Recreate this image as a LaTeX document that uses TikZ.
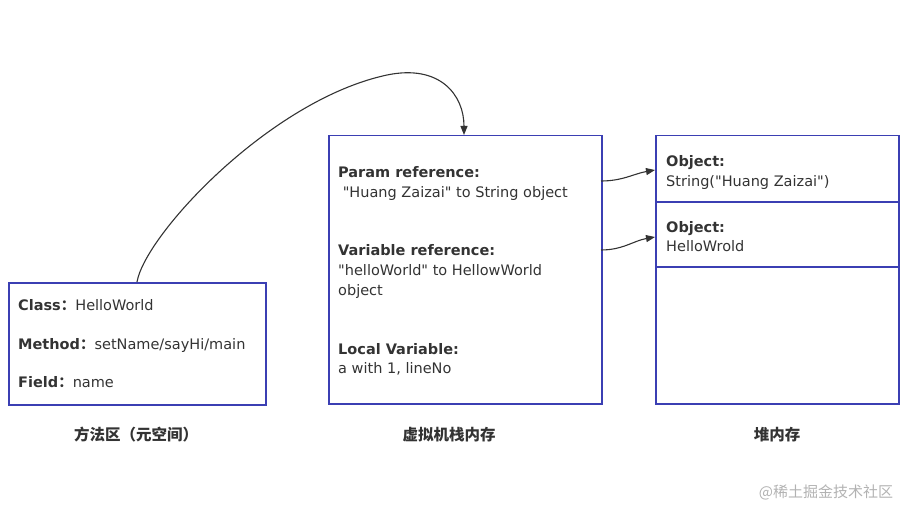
\documentclass[tikz,border=0pt]{standalone}
\usepackage{fontspec}
\setmainfont{DejaVu Sans}[Ligatures=TeXOff]
\newfontfamily\cjk{Noto Sans CJK SC}
\usetikzlibrary{arrows.meta}
\definecolor{boxblue}{HTML}{3B3FB3}
\definecolor{ink}{HTML}{333333}
\tikzset{
  area/.style={draw=boxblue, line width=1.5pt},
  txt/.style={anchor=base west, inner sep=0pt, text=ink, font=\fontsize{14.5}{16}\selectfont},
  hd/.style={txt, font=\fontsize{14.5}{16}\selectfont\bfseries},
  caption/.style={anchor=center, inner sep=0pt, text=ink, font=\fontsize{15.5}{17}\selectfont\cjk\bfseries},
  link/.style={draw=ink, line width=1.1pt, -{Triangle[length=9pt,width=7pt]}}
}
\begin{document}
\begin{tikzpicture}[x=1pt,y=-1pt]
\useasboundingbox (0,0) rectangle (913,508);
% boxes
\node[area, minimum width=257pt, minimum height=122pt, anchor=north west] (meta) at (8,282) {};
\node[area, minimum width=273pt, minimum height=268pt, anchor=north west] (stack) at (328,135) {};
\node[area, minimum width=243pt, minimum height=268pt, anchor=north west] (heap) at (655,135) {};
\draw[boxblue, line width=1.5pt] (655,202) -- (898,202);
\draw[boxblue, line width=1.5pt] (655,267) -- (898,267);
% left texts
\node[txt] (c1) at (18,310) {\textbf{Class}{\cjk\bfseries ：}HelloWorld};
\node[txt] (c2) at (18,349) {\textbf{Method}{\cjk\bfseries ：}setName/sayHi/main};
\node[txt] (c3) at (18,387) {\textbf{Field}{\cjk\bfseries ：}name};
% middle texts
\node[hd] (s1) at (338,177) {Param reference:};
\node[txt] (s2) at (338,197) {~"Huang Zaizai" to String object};
\node[hd] (s3) at (338,255) {Variable reference:};
\node[txt] (s4) at (338,275) {"helloWorld" to HellowWorld};
\node[txt] (s5) at (338,295) {object};
\node[hd] (s6) at (338,354) {Local Variable:};
\node[txt] (s7) at (338,373) {a with 1, lineNo};
% right texts
\node[hd] (h1) at (666,166) {Object:};
\node[txt] (h2) at (666,186) {String("Huang Zaizai")};
\node[hd] (h3) at (666,232) {Object:};
\node[txt] (h4) at (666,251) {HelloWrold};
% captions
\node[caption] (l1) at (136,435) {方法区（元空间）};
\node[caption] (l2) at (449,435) {虚拟机栈内存};
\node[caption] (l3) at (777,435) {堆内存};
\node[anchor=center, inner sep=0pt, text=black!30, font=\fontsize{15}{17}\selectfont\cjk] (wm) at (826,492) {@稀土掘金技术社区};
% connectors
\coordinate (a0) at (137,282);
\coordinate (a1) at (464,135);
\draw[link] (a0) .. controls (145,235) and (270,100) .. (387,75) .. controls (440,64) and (464,95) .. (a1);
\coordinate (b0) at (601,181);
\coordinate (b1) at (655,170);
\draw[link] (b0) to[out=0,in=190] (b1);
\coordinate (d0) at (601,250);
\coordinate (d1) at (655,237);
\draw[link] (d0) to[out=0,in=190] (d1);
\end{tikzpicture}
\end{document}
